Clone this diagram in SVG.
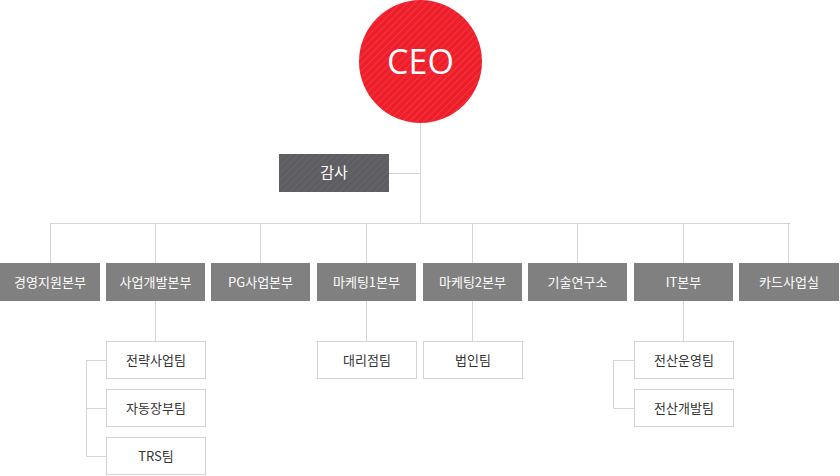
<svg xmlns="http://www.w3.org/2000/svg" width="840" height="476" viewBox="0 0 840 476">
<defs>
<pattern id="hr" width="5" height="5" patternUnits="userSpaceOnUse" patternTransform="rotate(45)"><rect width="5" height="5" fill="#ee1f2b"/><line x1="0" y1="0" x2="0" y2="5" stroke="#f25a62" stroke-width="0.8"/></pattern>
<pattern id="hg" width="5" height="5" patternUnits="userSpaceOnUse" patternTransform="rotate(45)"><rect width="5" height="5" fill="#5e5e62"/><line x1="0" y1="0" x2="0" y2="5" stroke="#747478" stroke-width="0.8"/></pattern>
<style>
.ln{stroke:#d4d4d4;stroke-width:1;fill:none}
.d{fill:#808080}
.s{fill:#fff;stroke:#d4d4d4;stroke-width:1}
.tw{fill:#fff;font-family:"Noto Sans CJK KR","Noto Sans",sans-serif;font-size:13px;text-anchor:middle}
.tk{fill:#333;font-family:"Noto Sans CJK KR","Noto Sans",sans-serif;font-size:13px;text-anchor:middle}
</style>
</defs>
<g id="connectors">
<path class="ln" d="M420.5 122V223M389 173.5H420.5M50.5 223.5H790.5M50.5 223V263M155.5 223V263M260.5 223V263M366.5 223V263M472.5 223V263M577.5 223V263M683.5 223V263M788.5 223V263"/>
<path class="ln" d="M155.5 301V341M86.5 360V456M86.5 360.5H106M86.5 408.5H106M86.5 456.5H106"/>
<path class="ln" d="M366.5 301V341M472.5 301V341M683.5 301V341M613.5 360V408M613.5 360.5H634M613.5 408.5H634"/>
</g>
<g id="ceo"><circle cx="420.5" cy="61.5" r="61.5" fill="url(#hr)"/><text class="tw" x="420.5" y="74" style="font-size:34px;font-family:'Open Sans','Noto Sans',sans-serif">CEO</text></g>
<g id="audit"><rect x="279" y="154" width="110" height="38" fill="url(#hg)"/><text class="tw" x="334" y="178" style="font-size:15px">감사</text></g>
<g id="n1"><rect class="d" x="0" y="263" width="100" height="38"/><text class="tw" x="50" y="287">경영지원본부</text></g>
<g id="n2"><rect class="d" x="106" y="263" width="99" height="38"/><text class="tw" x="155.5" y="287">사업개발본부</text></g>
<g id="n3"><rect class="d" x="211" y="263" width="99" height="38"/><text class="tw" x="260.5" y="287">PG사업본부</text></g>
<g id="n4"><rect class="d" x="317" y="263" width="99" height="38"/><text class="tw" x="366.5" y="287">마케팅1본부</text></g>
<g id="n5"><rect class="d" x="423" y="263" width="99" height="38"/><text class="tw" x="472.5" y="287">마케팅2본부</text></g>
<g id="n6"><rect class="d" x="528" y="263" width="99" height="38"/><text class="tw" x="577.5" y="287">기술연구소</text></g>
<g id="n7"><rect class="d" x="634" y="263" width="99" height="38"/><text class="tw" x="683.5" y="287">IT본부</text></g>
<g id="n8"><rect class="d" x="739" y="263" width="100" height="38"/><text class="tw" x="789" y="287">카드사업실</text></g>
<g id="s1"><rect class="s" x="106.5" y="341.5" width="99" height="37"/><text class="tk" x="156" y="365">전략사업팀</text></g>
<g id="s2"><rect class="s" x="106.5" y="389.5" width="99" height="37"/><text class="tk" x="156" y="413">자동장부팀</text></g>
<g id="s3"><rect class="s" x="106.5" y="437.5" width="99" height="37"/><text class="tk" x="156" y="461">TRS팀</text></g>
<g id="s4"><rect class="s" x="317.5" y="341.5" width="99" height="37"/><text class="tk" x="367" y="365">대리점팀</text></g>
<g id="s5"><rect class="s" x="423.5" y="341.5" width="99" height="37"/><text class="tk" x="473" y="365">법인팀</text></g>
<g id="s6"><rect class="s" x="634.5" y="341.5" width="99" height="37"/><text class="tk" x="684" y="365">전산운영팀</text></g>
<g id="s7"><rect class="s" x="634.5" y="389.5" width="99" height="37"/><text class="tk" x="684" y="413">전산개발팀</text></g>
</svg>
